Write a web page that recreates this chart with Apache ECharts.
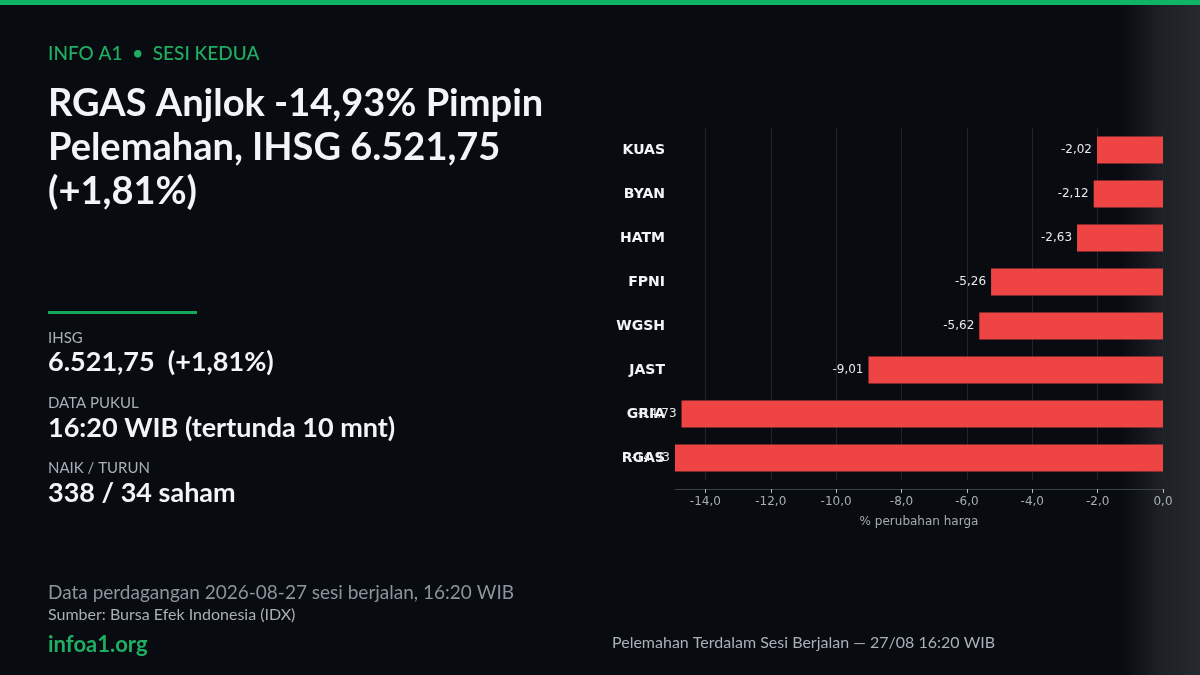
<!DOCTYPE html>
<html><head><meta charset="utf-8">
<script src="https://cdn.jsdelivr.net/npm/echarts@6/dist/echarts.min.js"></script>
<style>html,body{margin:0;padding:0;background:#080b10;}#c{width:1200px;height:675px;}</style>
</head><body><div id="c"></div>
<script>
const categories = ['KUAS','BYAN','HATM','FPNI','WGSH','JAST','GRIA','RGAS'];
const changes = [-2.02,-2.12,-2.63,-5.26,-5.62,-9.01,-14.73,-14.93];
const xTicks = [-14,-12,-10,-8,-6,-4,-2,0];

const fmt = v => v.toFixed(1).replace('.', ',');
const fmt2 = v => v.toFixed(2).replace('.', ',');
const chart = echarts.init(document.getElementById('c'), null, {renderer:'canvas'});
const DJ = 'DejaVu Sans';
chart.setOption({
  backgroundColor: {
    type:'linear', x:0, y:0, x2:1, y2:0,
    colorStops:[{offset:0,color:'#080b10'},{offset:0.935,color:'#080b10'},{offset:0.965,color:'#1c2024'},{offset:1,color:'#262a2e'}]
  },
  animation:false,
  grid:{left:675, right:37, top:128, bottom:195, containLabel:false},
  xAxis:{
    type:'value', min:-14.93, max:0, offset:9,
    name:'% perubahan harga', nameLocation:'middle', nameGap:27,
    nameTextStyle:{color:'#a7adb4', fontFamily:DJ, fontSize:12},
    axisLine:{show:true, lineStyle:{color:'#3b4148', width:1}},
    axisTick:{show:true, length:4, customValues:xTicks, lineStyle:{color:'#b8bec5'}},
    axisLabel:{customValues:xTicks, color:'#a7adb4', fontFamily:DJ, fontSize:12, margin:7, formatter:v=>fmt(v)},
    splitLine:{show:true, lineStyle:{color:'#1f252c', width:1}}
  },
  yAxis:{
    type:'category', data:categories, inverse:true,
    axisLine:{show:false},
    axisTick:{show:true, length:4, alignWithLabel:true, lineStyle:{color:'#4a5058'}},
    axisLabel:{color:'#f2f4f7', fontFamily:DJ, fontWeight:'bold', fontSize:14, margin:10, padding:[4,0,0,0]},
    splitLine:{show:false}
  },
  series:[{
    type:'bar', data:changes, barWidth:27,
    itemStyle:{color:'#ef4444'},
    label:{show:true, position:'left', distance:5, color:'#e6e9ec', fontFamily:DJ, fontSize:12, formatter:p=>fmt2(p.value)}
  }],
  graphic:[
    {type:'rect', shape:{x:0,y:0,width:1200,height:5}, style:{fill:'#0fb565'}},
    {type:'text', left:48, top:44, style:{text:'INFO A1  \u2022  SESI KEDUA', fill:'#1fae62', font:'500 19px Lato'}},
    {type:'text', left:48, top:82, style:{text:'RGAS Anjlok -14,93% Pimpin\nPelemahan, IHSG 6.521,75\n(+1,81%)', fill:'#f2f4f7', font:'bold 38px Lato', lineHeight:44}},
    {type:'rect', shape:{x:48,y:311,width:149,height:3}, style:{fill:'#16a85a'}},
    {type:'text', left:48, top:331, style:{text:'IHSG', fill:'#a9b0b8', font:'15px Lato'}},
    {type:'text', left:48, top:349, style:{text:'6.521,75  (+1,81%)', fill:'#f2f4f7', font:'bold 27px Lato'}},
    {type:'text', left:48, top:396, style:{text:'DATA PUKUL', fill:'#a9b0b8', font:'15px Lato'}},
    {type:'text', left:48, top:415, style:{text:'16:20 WIB (tertunda 10 mnt)', fill:'#f2f4f7', font:'bold 27px Lato'}},
    {type:'text', left:48, top:461, style:{text:'NAIK / TURUN', fill:'#a9b0b8', font:'15px Lato'}},
    {type:'text', left:48, top:480, style:{text:'338 / 34 saham', fill:'#f2f4f7', font:'bold 27px Lato'}},
    {type:'text', left:48, top:583, style:{text:'Data perdagangan 2026-08-27 sesi berjalan, 16:20 WIB', fill:'#8d949c', font:'19px Lato'}},
    {type:'text', left:48, top:607, style:{text:'Sumber: Bursa Efek Indonesia (IDX)', fill:'#a9b0b8', font:'16px Lato'}},
    {type:'text', left:48, top:634, style:{text:'infoa1.org', fill:'#1fae62', font:'bold 22px Lato'}},
    {type:'text', left:612, top:635, style:{text:'Pelemahan Terdalam Sesi Berjalan \u2014 27/08 16:20 WIB', fill:'#a9b0b8', font:'16px Lato'}}
  ]
});
</script></body></html>
